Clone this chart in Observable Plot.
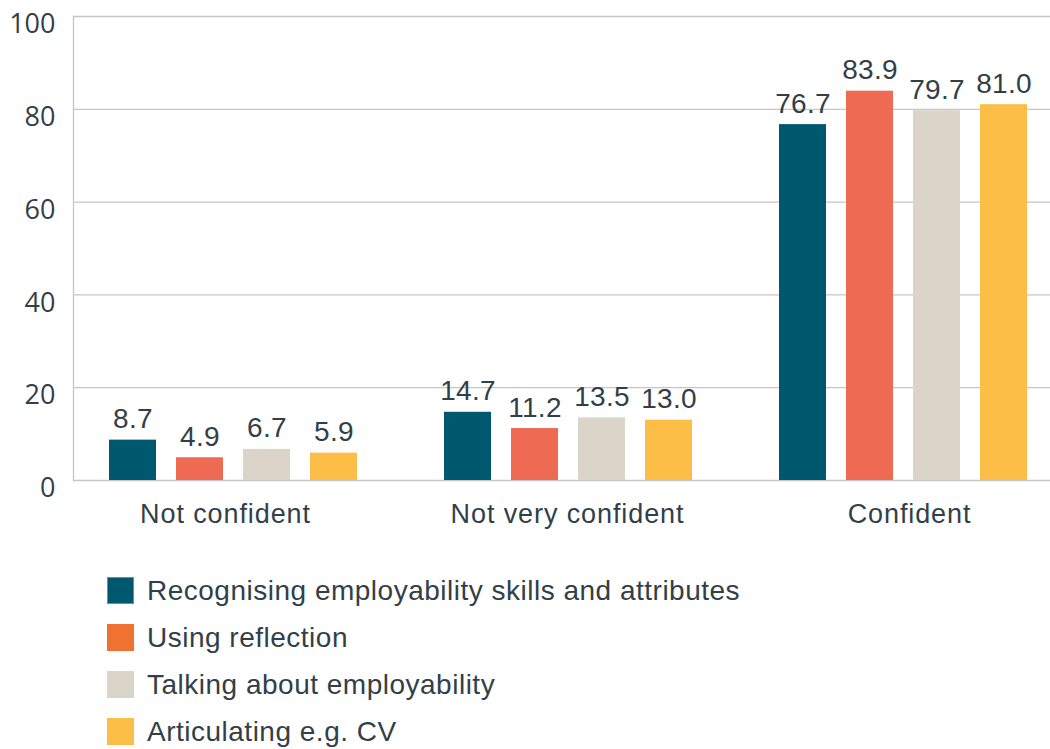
<!DOCTYPE html>
<html>
<head>
<meta charset="utf-8">
<script src="https://cdn.jsdelivr.net/npm/d3@7"></script>
<script src="https://cdn.jsdelivr.net/npm/@observablehq/plot@0.6"></script>
<style>
  html, body { margin: 0; padding: 0; background: #fff; overflow: hidden; }
  #chart { position: relative; width: 1050px; height: 550px; }
  #chart svg { position: absolute; left: 0; top: 0; }
  #chart g[aria-label="x-axis tick label"] { letter-spacing: 0.9px; }
  #chart g[aria-label="text"] { letter-spacing: 0.3px; }
  #legend { position: absolute; left: 107px; top: 567px; font-family: "Liberation Sans", Arial, sans-serif; font-size: 28px; letter-spacing: 0.5px; color: #333f48; }
  .item { display: flex; align-items: center; height: 47px; }
  .sw { width: 27px; height: 27px; margin-right: 13px; box-sizing: border-box; }
</style>
</head>
<body>
<div id="chart"></div>
<div id="legend"></div>
<script>
const categories = ["Not confident", "Not very confident", "Confident"];
const series = [
  "Recognising employability skills and attributes",
  "Using reflection",
  "Talking about employability",
  "Articulating e.g. CV"
];
const recognising = [8.7, 14.7, 76.7];
const reflection = [4.9, 11.2, 83.9];
const talking = [6.7, 13.5, 79.7];
const articulating = [5.9, 13.0, 81.0];
const barColors = ["#00586f", "#ee6a53", "#dbd4c9", "#fdbe47"];
const legendColors = ["#00586f", "#f07232", "#dbd4c9", "#fdbe47"];
const yTicks = [0, 20, 40, 60, 80, 100];

const valuesBySeries = [recognising, reflection, talking, articulating];
const data = [];
categories.forEach((c, i) => {
  series.forEach((s, j) => data.push({category: c, series: s, value: valuesBySeries[j][i]}));
});

const W = 1050, H = 550, mTop = 16, mBottom = 70, mLeft = 73;
const textColor = "#333f48";
const gridColor = "#c6c6c6";

// Background: axes, gridlines, category labels
const back = Plot.plot({
  width: W, height: H,
  marginTop: mTop, marginBottom: mBottom, marginLeft: mLeft, marginRight: 0,
  x: {type: "band", domain: categories, range: [53.7, 1079.7], padding: 0, axis: null},
  y: {domain: [0, 100], axis: null},
  marks: [
    Plot.gridY(yTicks, {stroke: gridColor, strokeOpacity: 1, strokeWidth: 1.3}),
    Plot.frame({anchor: "left", stroke: gridColor, strokeWidth: 1.3}),
    Plot.axisY(yTicks, {tickSize: 0, tickPadding: 18, dy: 8, fontSize: 27, fontFamily: "Open Sans", fill: textColor, label: null}),
    Plot.axisX({anchor: "bottom", tickSize: 0, tickPadding: 23, fontSize: 27, fontFamily: "Liberation Sans", fill: textColor, label: null})
  ]
});

// Foreground: grouped bars via facets
const front = Plot.plot({
  width: W, height: H,
  marginTop: mTop, marginBottom: mBottom, marginLeft: 0, marginRight: 0,
  fx: {domain: categories, range: [64.5, 1069.5], padding: 0, axis: null, label: null},
  x: {domain: series, paddingInner: 0.3, paddingOuter: 0.65, axis: null},
  y: {domain: [0, 100], axis: null},
  color: {domain: series, range: barColors},
  style: {background: "transparent", overflow: "visible"},
  marks: [
    Plot.barY(data, {fx: "category", x: "series", y: "value", fill: "series"}),
    Plot.text(data, {fx: "category", x: "series", y: "value", text: d => d.value.toFixed(1), lineAnchor: "bottom", dy: -12, fontSize: 28, fontFamily: "Liberation Sans", fill: textColor})
  ]
});

const chart = document.getElementById("chart");
chart.appendChild(back);
chart.appendChild(front);

const legend = document.getElementById("legend");
series.forEach((s, i) => {
  const item = document.createElement("div");
  item.className = "item";
  const sw = document.createElement("div");
  sw.className = "sw";
  sw.style.background = legendColors[i];
  if (i === 0) sw.style.border = "1px solid #3fa6a6";
  const lab = document.createElement("span");
  lab.textContent = s;
  item.appendChild(sw);
  item.appendChild(lab);
  legend.appendChild(item);
});
</script>
</body>
</html>
